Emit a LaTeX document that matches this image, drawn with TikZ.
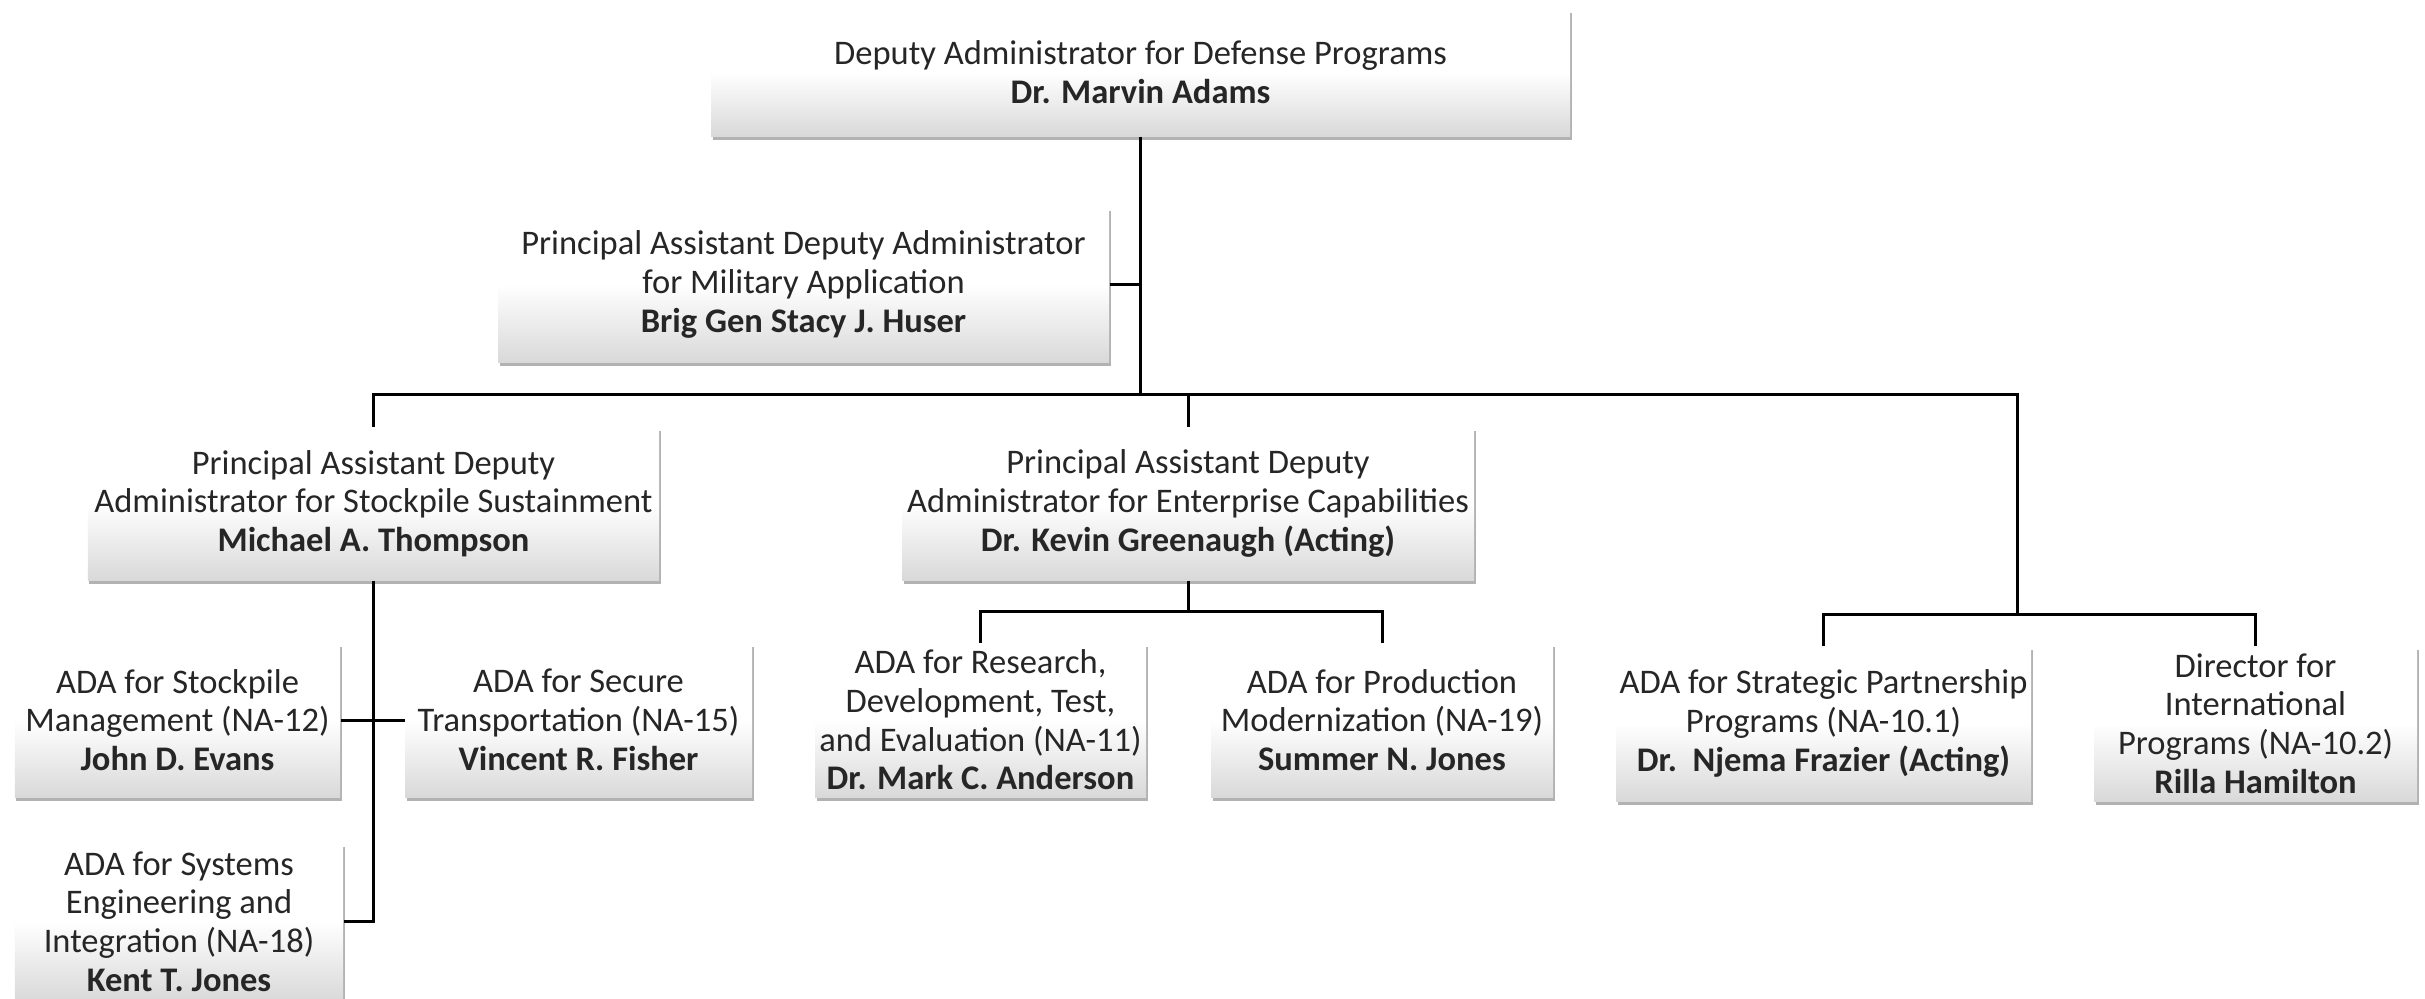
\documentclass[tikz,border=0pt]{standalone}
\usepackage{fontspec}
\setmainfont{Carlito}
\usetikzlibrary{shadows}
\begin{document}
\begin{tikzpicture}[x=0.4pt,y=-0.4pt,
  box/.style={inner sep=0pt, align=center, text=black!85,
    font=\fontsize{13.8}{15.5}\selectfont,
    top color=white, bottom color=black!15, middle color=white,
    drop shadow={shadow xshift=0.6pt, shadow yshift=-1.6pt, opacity=0.5, fill=black!60}},
  conn/.style={line width=1.2pt, black}]
\useasboundingbox (0,0) rectangle (2425,999);
\fill[white] (0,0) rectangle (2425,999);

\node[box, minimum width=343.6pt, minimum height=50.8pt] (top) at (1140.5,72.5)
  {Deputy Administrator for Defense Programs\\\textbf{Dr. Marvin Adams}};
\node[box, minimum width=244.4pt, minimum height=62pt] (padma) at (803.5,284.5)
  {Principal Assistant Deputy Administrator\\for Military Application\\\textbf{Brig Gen Stacy J. Huser}};
\node[box, minimum width=228.4pt, minimum height=61.2pt] (stock) at (373.5,503.5)
  {Principal Assistant Deputy\\Administrator for Stockpile Sustainment\\\textbf{Michael A. Thompson}};
\node[box, minimum width=228.8pt, minimum height=61.2pt] (ent) at (1188,503.5)
  {Principal Assistant Deputy\\Administrator for Enterprise Capabilities\\\textbf{Dr. Kevin Greenaugh (Acting)}};
\node[box, minimum width=130pt, minimum height=61.6pt] (mgmt) at (177.5,720)
  {ADA for Stockpile\\Management (NA-12)\\\textbf{John D. Evans}};
\node[box, minimum width=138.8pt, minimum height=61.6pt] (secure) at (578.5,720)
  {ADA for Secure\\Transportation (NA-15)\\\textbf{Vincent R. Fisher}};
\node[box, minimum width=131.2pt, minimum height=62.8pt] (sys) at (179,921.5)
  {ADA for Systems\\Engineering and\\Integration (NA-18)\\\textbf{Kent T. Jones}};
\node[box, minimum width=132.4pt, minimum height=61.6pt] (rdte) at (980.5,720)
  {ADA for Research,\\Development, Test,\\and Evaluation (NA-11)\\\textbf{Dr. Mark C. Anderson}};
\node[box, minimum width=136.8pt, minimum height=61.6pt] (prod) at (1382,720)
  {ADA for Production\\Modernization (NA-19)\\\textbf{Summer N. Jones}};
\node[box, minimum width=166pt, minimum height=62pt] (strat) at (1823.5,723.5)
  {ADA for Strategic Partnership\\Programs (NA-10.1)\\\textbf{Dr.\ \ Njema Frazier (Acting)}};
\node[box, minimum width=129.2pt, minimum height=62pt] (intl) at (2255.5,723.5)
  {Director for\\International\\Programs (NA-10.2)\\\textbf{Rilla Hamilton}};

\coordinate (bus) at (1140.5,394);
\coordinate (rdrop) at (2017,394);
\coordinate (rj) at (2017,614);
\coordinate (ej) at (1188,611);

\draw[conn] (top.south) -- (bus);
\draw[conn] (padma.east) -- (padma.east -| top.south);
\draw[conn] (stock.north) -- (stock.north |- bus) -- (rdrop) -- (rj);
\draw[conn] (ent.north) -- (ent.north |- bus);
\draw[conn] (strat.north) |- (rj) -| (intl.north);
\draw[conn] (ent.south) -- (ej);
\draw[conn] (rdte.north) |- (ej) -| (prod.north);
\draw[conn] (stock.south) -- (stock.south |- sys.east) -- (sys.east);
\draw[conn] (mgmt.east) -- (secure.west);
\end{tikzpicture}
\end{document}
